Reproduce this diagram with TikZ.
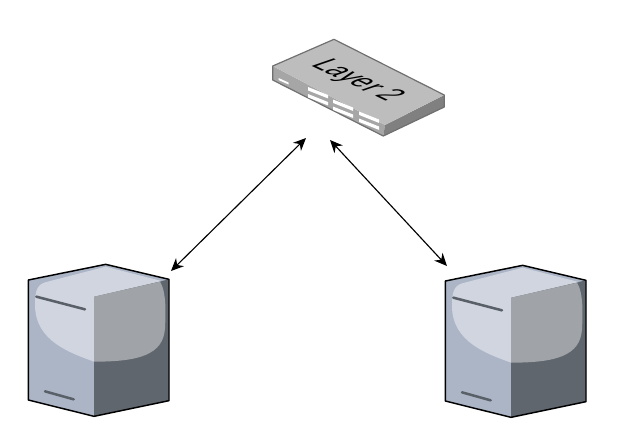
\documentclass[tikz,border=0pt]{standalone}
\usepackage{fontspec}
\setmainfont{Liberation Sans}
\usetikzlibrary{arrows.meta}
\definecolor{srvlight}{HTML}{D0D5E0}
\definecolor{srvmid}{HTML}{ABB5C6}
\definecolor{srvgrey}{HTML}{A0A3A7}
\definecolor{srvdark}{HTML}{5F666E}
\definecolor{srvline}{HTML}{5A6068}
\definecolor{swtop}{HTML}{BDBDBD}
\definecolor{swfront}{HTML}{A6A6A6}
\definecolor{swright}{HTML}{808080}
\definecolor{swedge}{HTML}{707070}
\tikzset{
  x=0.75pt,y=-0.75pt,
  link/.style={draw=black,line width=0.85pt,{Stealth[length=9.5pt,width=8.5pt]}-{Stealth[length=9.5pt,width=8.5pt]}},
  port/.style={fill=white,draw=none},
  pics/serverbox/.style={code={
    \begin{scope}[x=0.25pt,y=-0.25pt]
      \fill[srvmid] (40,75)--(272,28)--(462,73)--(462,437)--(237,484)--(40,435)--cycle;
      \fill[srvdark] (237,125)--(462,73)--(462,437)--(237,484)--cycle;
      \fill[srvlight] (90,82) -- (272,35) -- (440,78) -- (237,125) -- (237,320)
         .. controls (170,295) and (60,260) .. (60,150) .. controls (60,110) and (65,90) .. (90,82) -- cycle;
      \fill[srvgrey] (237,125) -- (435,80) .. controls (455,110) and (452,180) .. (450,220)
         .. controls (445,300) and (370,320) .. (237,320) -- cycle;
      \draw[srvline,line width=1.9pt,line cap=round] (64,125)--(210,163);
      \draw[srvline,line width=1.9pt,line cap=round] (90,409)--(176,433);
      \draw[black,line width=1.1pt,line join=round] (40,75)--(272,28)--(462,73)--(462,437)--(237,484)--(40,435)--cycle;
    \end{scope}
  }}
}
\begin{document}
\begin{tikzpicture}
\useasboundingbox (0,0) rectangle (619,444);
% switch
\fill[swfront] (272.7,66)--(272.7,80)--(383.3,136)--(385,125)--cycle;
\fill[swright] (385,125)--(444.3,95)--(444.3,107)--(383.3,136)--cycle;
\fill[swtop] (272.7,66)--(334,39.3)--(444.3,95)--(385,125)--cycle;
\draw[swedge,line width=0.9pt,line join=round] (272.7,66)--(334,39.3)--(444.3,95)--(444.3,107)--(383.3,136)--(272.7,80)--cycle;
\foreach \x/\y in {308/87,333/99.5,359/111.5}{
  \fill[port] (\x,\y) -- ++(20,8) -- ++(0,3.4) -- ++(-20,-8) -- cycle;
  \fill[port] (\x,\y+7) -- ++(20,8) -- ++(0,3.4) -- ++(-20,-8) -- cycle;
}
\fill[port] (278.5,78) -- ++(10,4.5) -- ++(0,2) -- ++(-10,-4.5) -- cycle;
\begin{scope}[shift={(309.5,65)}]
\node[text=black,inner sep=0pt,anchor=base west,font=\fontsize{10}{10}\selectfont,transform shape,cm={1.724,-0.825,2.4,0.83,(0,0)}] (label) at (0,0) {Layer 2};
\end{scope}
% servers
\pic (srvA) at (15,255) {serverbox};
\pic (srvB) at (432,256) {serverbox};
\coordinate (swL) at (306,138);
\coordinate (swR) at (330,140);
\coordinate (srvAtop) at (171,271);
\coordinate (srvBtop) at (447,266);
\draw[link] (swL) -- (srvAtop);
\draw[link] (swR) -- (srvBtop);
\end{tikzpicture}
\end{document}
